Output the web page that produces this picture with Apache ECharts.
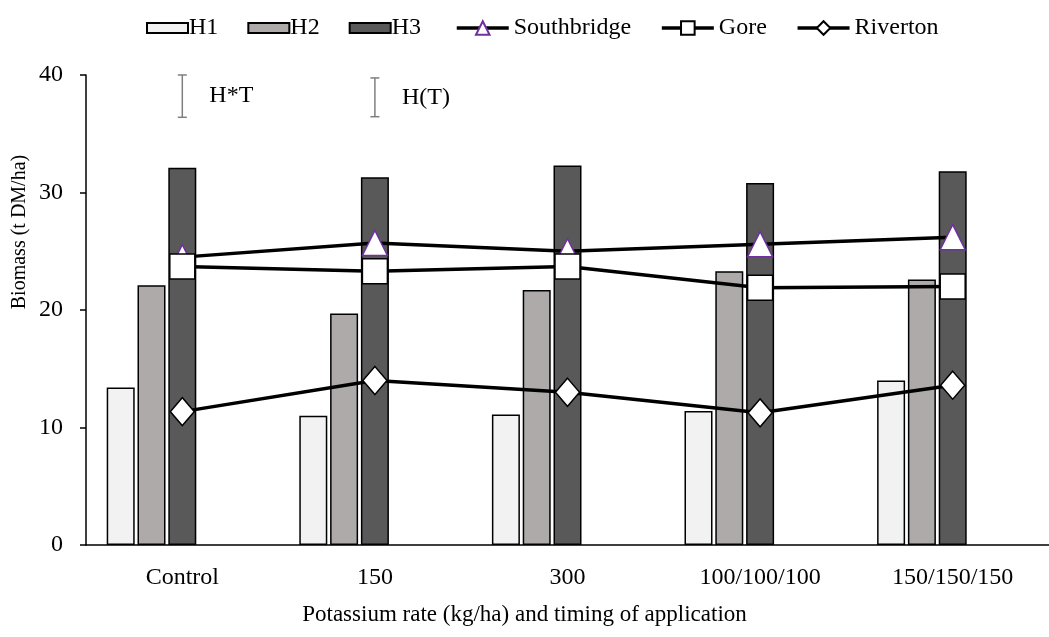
<!DOCTYPE html>
<html>
<head>
<meta charset="utf-8">
<script src="https://cdn.jsdelivr.net/npm/echarts@6/dist/echarts.min.js"></script>
<style>
  html, body { margin: 0; padding: 0; background: #fff; }
  #chart { width: 1049px; height: 637px; }
</style>
</head>
<body>
<div id="chart"></div>
<script>
const categories = ['Control', '150', '300', '100/100/100', '150/150/150'];

// harvest biomass (t DM/ha)
const h1 = [13.4, 11.0, 11.1, 11.4, 14.0];
const h2 = [22.1, 19.7, 21.7, 23.3, 22.6];
const h3 = [32.1, 31.3, 32.3, 30.8, 31.8];

// site means
const southbridge = [24.5, 25.7, 25.0, 25.6, 26.2];
const gore = [23.7, 23.3, 23.7, 21.9, 22.0];
const riverton = [11.35, 14.0, 13.0, 11.25, 13.6];

// LSD bars: category index, low, high
const errBars = [[0, 36.4, 40.0], [1, 36.45, 39.75]];
const errLabels = ['H*T', 'H(T)'];

const yTicks = { min: 0, max: 40, interval: 10 };

const FONT = '"Liberation Serif", "Times New Roman", serif';
const chart = echarts.init(document.getElementById('chart'));

const barStyle = (fill) => ({
  color: fill,
  borderColor: '#000',
  borderWidth: 1.5,
});

const option = {
  animation: false,
  backgroundColor: '#fff',
  textStyle: { fontFamily: FONT, color: '#000' },
  grid: { left: 86, top: 75, width: 975, height: 470 },
  legend: [
    {
      data: ['H1', 'H2', 'H3'],
      left: 146,
      top: 16,
      padding: 0,
      icon: 'rect',
      itemWidth: 41,
      itemHeight: 10,
      itemGap: 29,
      textStyle: { fontFamily: FONT, fontSize: 24, color: '#000', padding: [0, 0, 0, -4] },
    },
    {
      data: ['Southbridge', 'Gore', 'Riverton'],
      left: 455,
      top: 16,
      padding: 0,
      itemWidth: 52,
      itemHeight: 17,
      itemGap: 29,
      lineStyle: { width: 3.5 },
      textStyle: { fontFamily: FONT, fontSize: 24, color: '#000' },
    },
  ],
  xAxis: {
    type: 'category',
    data: categories,
    axisLine: { lineStyle: { color: '#000', width: 1.5 } },
    axisTick: { length: 6, lineStyle: { color: '#000', width: 1.5 } },
    axisLabel: { fontFamily: FONT, fontSize: 24, color: '#000', margin: 21 },
  },
  yAxis: {
    type: 'value',
    min: yTicks.min,
    max: yTicks.max,
    interval: yTicks.interval,
    splitLine: { show: false },
    axisLine: { show: true, lineStyle: { color: '#000', width: 1.5 } },
    axisTick: { show: true, length: 6, lineStyle: { color: '#000', width: 1.5 } },
    axisLabel: { fontFamily: FONT, fontSize: 24, color: '#000', margin: 23 },
  },
  title: {
    text: 'Potassium rate (kg/ha) and timing of application',
    left: 'center',
    top: 598,
    textStyle: { fontFamily: FONT, fontSize: 23, fontWeight: 'normal', color: '#000' },
  },
  graphic: [
    {
      type: 'text',
      x: 20,
      y: 232,
      rotation: Math.PI / 2,
      style: {
        text: 'Biomass (t DM/ha)',
        font: '20px ' + FONT,
        fill: '#000',
        align: 'center',
        verticalAlign: 'middle',
      },
    },
  ],
  series: [
    { name: 'H1', type: 'bar', data: h1, barWidth: 28, itemStyle: barStyle('#F2F2F2') },
    { name: 'H2', type: 'bar', data: h2, barWidth: 28, itemStyle: barStyle('#AEAAAA') },
    { name: 'H3', type: 'bar', data: h3, barWidth: 28, itemStyle: barStyle('#595959') },
    // two empty slots so H3 sits at the category centre under the markers
    { name: 'pad1', type: 'bar', data: categories.map(() => '-'), barWidth: 28 },
    { name: 'pad2', type: 'bar', data: categories.map(() => '-'), barWidth: 28, barGap: '10%' },
    {
      name: 'Southbridge',
      type: 'line',
      data: southbridge,
      symbol: 'triangle',
      symbolSize: 25,
      lineStyle: { color: '#000', width: 3.5 },
      itemStyle: { color: '#fff', borderColor: '#7030A0', borderWidth: 1.5 },
      z: 3,
    },
    {
      name: 'Gore',
      type: 'line',
      data: gore,
      symbol: 'rect',
      symbolSize: 25,
      lineStyle: { color: '#000', width: 3.5 },
      itemStyle: { color: '#fff', borderColor: '#000', borderWidth: 1.5 },
      z: 4,
    },
    {
      name: 'Riverton',
      type: 'line',
      data: riverton,
      symbol: 'diamond',
      symbolSize: [24, 28],
      lineStyle: { color: '#000', width: 3.5 },
      itemStyle: { color: '#fff', borderColor: '#000', borderWidth: 1.5 },
      z: 5,
    },
    {
      name: 'lsd',
      type: 'custom',
      data: errBars,
      z: 6,
      renderItem: function (params, api) {
        const top = api.coord([api.value(0), api.value(2)]);
        const bottom = api.coord([api.value(0), api.value(1)]);
        const x = top[0];
        const stroke = { stroke: '#7f7f7f', lineWidth: 1.5 };
        return {
          type: 'group',
          children: [
            { type: 'line', shape: { x1: x, y1: top[1], x2: x, y2: bottom[1] }, style: stroke },
            { type: 'line', shape: { x1: x - 4.5, y1: top[1], x2: x + 4.5, y2: top[1] }, style: stroke },
            { type: 'line', shape: { x1: x - 4.5, y1: bottom[1], x2: x + 4.5, y2: bottom[1] }, style: stroke },
            {
              type: 'text',
              x: x + 27,
              y: (top[1] + bottom[1]) / 2,
              style: {
                text: errLabels[params.dataIndex],
                font: '24px ' + FONT,
                fill: '#000',
                verticalAlign: 'middle',
              },
            },
          ],
        };
      },
    },
  ],
};

chart.setOption(option);
</script>
</body>
</html>
